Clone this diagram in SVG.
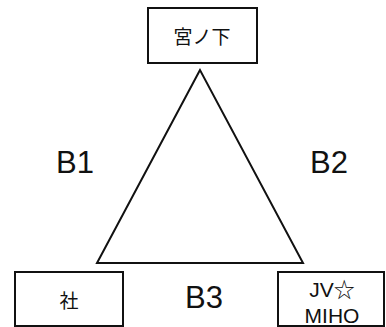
<svg xmlns="http://www.w3.org/2000/svg" width="386" height="327" viewBox="0 0 386 327">
<style>
.box{fill:#fff;stroke:#111;stroke-width:2}
.jp{font-family:"Liberation Sans","Noto Sans CJK JP",sans-serif;font-size:19px;fill:#111;text-anchor:middle}
.en{font-family:"Liberation Sans","Noto Sans CJK JP",sans-serif;font-size:21px;fill:#111;text-anchor:middle}
.lbl{font-family:"Liberation Sans",sans-serif;font-size:31px;fill:#111;text-anchor:middle}
.edge{fill:none;stroke:#111;stroke-width:2;stroke-linejoin:miter}
</style>
<rect width="386" height="327" fill="#fff"/>
<g id="connectors">
<polygon class="edge" points="200,70 97,263 303,263"/>
</g>
<g id="miyanoshita">
<rect class="box" x="148" y="8" width="109" height="55"/>
<text class="jp" x="202" y="44">宮ノ下</text>
</g>
<g id="yashiro">
<rect class="box" x="15" y="272" width="108" height="54"/>
<text class="jp" x="69" y="308">社</text>
</g>
<g id="jvmiho">
<rect class="box" x="278" y="272" width="106" height="54"/>
<text class="en" x="332" y="297">JV☆</text>
<text class="en" x="332" y="323">MIHO</text>
</g>
<g id="labels">
<text class="lbl" x="75" y="173">B1</text>
<text class="lbl" x="329" y="173">B2</text>
<text class="lbl" x="204" y="308">B3</text>
</g>
</svg>
